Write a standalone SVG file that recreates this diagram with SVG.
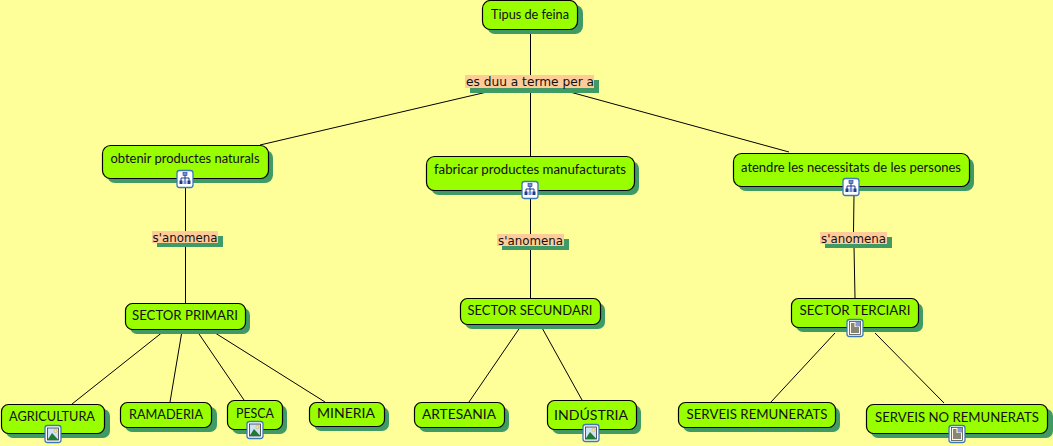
<svg xmlns="http://www.w3.org/2000/svg" width="1053" height="446" viewBox="0 0 1053 446">
<style>
.bg{fill:#ffff99}
.box{fill:#99ff00;stroke:#000;stroke-width:1.2}
.sh{fill:#3f9a63}
.lb{fill:#ffcc99}
.t{font-family:"Lato","Noto Sans",sans-serif;font-size:12.5px;fill:#111;text-anchor:middle}
.l{font-family:"DejaVu Sans",sans-serif;font-size:13px;fill:#111;text-anchor:middle}
.c{stroke:#000;stroke-width:1;fill:none}
</style>
<defs>
<g id="frame"><rect x="-8" y="-8.500" width="16" height="17" rx="2.500" fill="#fff" stroke="#3a78b8" stroke-width="1.300"/></g>
<g id="ic-map"><use href="#frame"/><path d="M0-5V-1M-4 3V-1H4V3M0-1V3" stroke="#223a88" fill="none" stroke-width="1"/><rect x="-2" y="-6.500" width="4" height="3" fill="#6f8fd8" stroke="#223a88" stroke-width=".6"/><rect x="-5.500" y="1.500" width="3" height="3.500" fill="#223a88"/><rect x="2.500" y="1.500" width="3" height="3.500" fill="#223a88"/><rect x="-1.500" y="1.500" width="3" height="3.500" fill="#6f8fd8"/></g>
<g id="ic-img"><use href="#frame"/><rect x="-5.500" y="-6" width="11" height="12" fill="#cfe2f5" stroke="#334" stroke-width=".8"/><path d="M-5.500 6L-1-1L5.500 6Z" fill="#1f7a32"/><circle cx="2.500" cy="-3" r="1.600" fill="#f5e9a0" stroke="#b59a30" stroke-width=".4"/></g>
<g id="ic-doc"><use href="#frame"/><rect x="-5.500" y="-6.500" width="11" height="13" fill="#fffbe0" stroke="#333" stroke-width=".7"/><path d="M-4-4H-.5M-4-2H-.5M-4 0H4M-4 2H4M-4 4H4" stroke="#111" stroke-width="1"/><rect x="0.500" y="-6" width="4.500" height="4.500" fill="#8a9ad0"/></g>
</defs>
<rect class="bg" width="1053" height="446"/>
<g id="connectors">
<path class="c" d="M530.500 29V76M530.500 88V156M487 92L260 145M570 92L789 152M185.500 188V232M185.500 246V303M530.500 199V236M530.500 248V298M854 195L853.500 232M854 246L855 298M164 331L72 404M182 331L170 402M197 331L244 400M212 331L325 402M521 326L469 402M541 326L582 400M835 333L771 402M875 333L944 403"/>
</g>
<g id="n-tipus"><rect class="sh" x="487" y="5" width="96" height="29" rx="8"/><rect class="box" x="482.500" y="0.500" width="95" height="29" rx="8"/><text class="t" x="530" y="19" textLength="78" lengthAdjust="spacingAndGlyphs">Tipus de feina</text></g>
<g id="l-duu"><rect class="sh" x="470" y="80" width="129" height="13"/><rect class="lb" x="465" y="75" width="129" height="13"/><text class="l" x="530" y="86" textLength="128" lengthAdjust="spacingAndGlyphs">es duu a terme per a</text></g>
<g id="n-obtenir"><rect class="sh" x="107" y="150" width="166" height="33" rx="8"/><rect class="box" x="102.500" y="145.500" width="166" height="33" rx="8"/><text class="t" x="185" y="163" textLength="149" lengthAdjust="spacingAndGlyphs">obtenir productes naturals</text><use href="#ic-map" x="185" y="179"/></g>
<g id="n-fabricar"><rect class="sh" x="431" y="161" width="208" height="34" rx="8"/><rect class="box" x="426.500" y="156.500" width="208" height="34" rx="8"/><text class="t" x="530" y="174" textLength="192" lengthAdjust="spacingAndGlyphs">fabricar productes manufacturats</text><use href="#ic-map" x="530" y="190"/></g>
<g id="n-atendre"><rect class="sh" x="738" y="158" width="236" height="33" rx="8"/><rect class="box" x="733.500" y="153.500" width="236" height="33" rx="8"/><text class="t" x="851" y="172" textLength="220" lengthAdjust="spacingAndGlyphs">atendre les necessitats de les persones</text><use href="#ic-map" x="851" y="187"/></g>
<g id="l-s1"><rect class="sh" x="157" y="236" width="66" height="11"/><rect class="lb" x="152" y="231" width="66" height="12"/><text class="l" x="185" y="242" textLength="65" lengthAdjust="spacingAndGlyphs">s'anomena</text></g>
<g id="l-s2"><rect class="sh" x="502" y="239" width="67" height="11"/><rect class="lb" x="497" y="234" width="67" height="12"/><text class="l" x="530.500" y="245" textLength="65" lengthAdjust="spacingAndGlyphs">s'anomena</text></g>
<g id="l-s3"><rect class="sh" x="825" y="237" width="67" height="11"/><rect class="lb" x="820" y="232" width="67" height="12"/><text class="l" x="853.500" y="243" textLength="65" lengthAdjust="spacingAndGlyphs">s'anomena</text></g>
<g id="n-primari"><rect class="sh" x="130" y="308" width="120" height="26" rx="7"/><rect class="box" x="125.500" y="303.500" width="120" height="26" rx="7"/><text class="t" x="185" y="320" textLength="106" lengthAdjust="spacingAndGlyphs">SECTOR PRIMARI</text></g>
<g id="n-secundari"><rect class="sh" x="465" y="303" width="140" height="26" rx="7"/><rect class="box" x="460.500" y="298.500" width="140" height="26" rx="7"/><text class="t" x="530" y="315" textLength="125" lengthAdjust="spacingAndGlyphs">SECTOR SECUNDARI</text></g>
<g id="n-terciari"><rect class="sh" x="796" y="303" width="127" height="29" rx="7"/><rect class="box" x="791.500" y="298.500" width="127" height="29" rx="7"/><text class="t" x="855" y="315" textLength="111" lengthAdjust="spacingAndGlyphs">SECTOR TERCIARI</text><use href="#ic-doc" x="855" y="328"/></g>
<g id="n-agricultura"><rect class="sh" x="6" y="409" width="104" height="29" rx="7"/><rect class="box" x="1.500" y="404.500" width="103" height="29" rx="7"/><text class="t" x="52" y="421" textLength="86" lengthAdjust="spacingAndGlyphs">AGRICULTURA</text><use href="#ic-img" x="53" y="434"/></g>
<g id="n-ramaderia"><rect class="sh" x="125" y="407" width="92" height="25" rx="7"/><rect class="box" x="120.500" y="402.500" width="91" height="25" rx="7"/><text class="t" x="166" y="419" textLength="74" lengthAdjust="spacingAndGlyphs">RAMADERIA</text></g>
<g id="n-pesca"><rect class="sh" x="232" y="405" width="55" height="29" rx="7"/><rect class="box" x="227.500" y="400.500" width="55" height="29" rx="7"/><text class="t" x="255" y="418" textLength="38" lengthAdjust="spacingAndGlyphs">PESCA</text><use href="#ic-img" x="255" y="430"/></g>
<g id="n-mineria"><rect class="sh" x="314" y="407" width="75" height="24" rx="7"/><rect class="box" x="309.500" y="402.500" width="75" height="24" rx="7"/><text class="t" x="346" y="418" textLength="58" lengthAdjust="spacingAndGlyphs">MINERIA</text></g>
<g id="n-artesania"><rect class="sh" x="419" y="407" width="90" height="25" rx="7"/><rect class="box" x="414.500" y="402.500" width="90" height="25" rx="7"/><text class="t" x="459" y="419" textLength="74" lengthAdjust="spacingAndGlyphs">ARTESANIA</text></g>
<g id="n-industria"><rect class="sh" x="552" y="405" width="89" height="29" rx="7"/><rect class="box" x="547.500" y="400.500" width="89" height="29" rx="7"/><text class="t" x="591" y="420" textLength="74" lengthAdjust="spacingAndGlyphs">INDÚSTRIA</text><use href="#ic-img" x="591" y="433"/></g>
<g id="n-remunerats"><rect class="sh" x="683" y="407" width="157" height="25" rx="7"/><rect class="box" x="678.500" y="402.500" width="157" height="25" rx="7"/><text class="t" x="757" y="419" textLength="141" lengthAdjust="spacingAndGlyphs">SERVEIS REMUNERATS</text></g>
<g id="n-noremunerats"><rect class="sh" x="871" y="409" width="182" height="29" rx="7"/><rect class="box" x="866.500" y="404.500" width="181" height="29" rx="7"/><text class="t" x="957" y="422" textLength="164" lengthAdjust="spacingAndGlyphs">SERVEIS NO REMUNERATS</text><use href="#ic-doc" x="957" y="434"/></g>
</svg>
